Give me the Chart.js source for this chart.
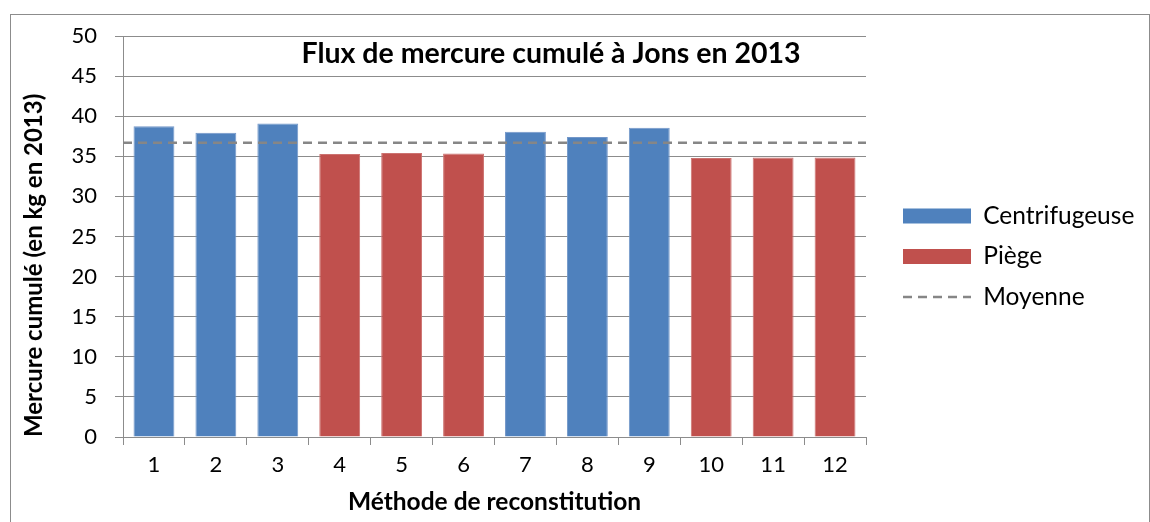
<!DOCTYPE html>
<html>
<head>
<meta charset="utf-8">
<script src="https://cdn.jsdelivr.net/npm/chart.js@4"></script>
<style>
  html, body { margin: 0; padding: 0; background: #fff; }
  #frame { position: absolute; left: 10px; top: 14px; width: 1138px; height: 530px; border: 1px solid #8c8c8c; }
  #wrap { position: absolute; left: 0; top: 0; width: 1150px; height: 522px; }
</style>
</head>
<body>
<div id="frame"></div>
<div id="wrap"><canvas id="chart" width="1150" height="522"></canvas></div>
<script>
// ===========================
// DATA
// ===========================
const methodes      = ['1', '2', '3', '4', '5', '6', '7', '8', '9', '10', '11', '12'];
const centrifugeuse = [38.75, 37.95, 39.1, null, null, null, 38.05, 37.4, 38.55, null, null, null];
const piege         = [null, null, null, 35.3, 35.4, 35.35, null, null, null, 34.8, 34.85, 34.85];
const moyenne       = 36.7;
const yTicks        = [0, 5, 10, 15, 20, 25, 30, 35, 40, 45, 50];

const BLUE  = '#4F81BD';
const RED   = '#C0504D';
const GRID  = '#8c8c8c';
const FONT  = 'Lato, Carlito, Calibri, sans-serif';

// title drawn inside the plot, like the Excel original
const innerTitle = {
  id: 'innerTitle',
  afterDraw(chart) {
    const { ctx, chartArea } = chart;
    ctx.save();
    ctx.font = 'bold 28.5px ' + FONT;
    ctx.fillStyle = '#000';
    ctx.textAlign = 'center';
    ctx.textBaseline = 'middle';
    ctx.fillText('Flux de mercure cumulé à Jons en 2013', chartArea.left + 428, chartArea.top + 18);
    ctx.restore();
  }
};

// legend width so that the plot ends where the original one does
const LEG_FONT = 24.5, LEG_PAD = 16, LEG_BOX = 68;
const m = document.createElement('canvas').getContext('2d');
m.font = LEG_FONT + 'px ' + FONT;
const textW = Math.max(...['Centrifugeuse', 'Piège', 'Moyenne'].map(t => m.measureText(t).width));
const legendW = 1150 - 881;
const padRight = Math.max(0, legendW - (LEG_PAD * 2 + LEG_BOX + LEG_FONT / 2 + textW));

new Chart(document.getElementById('chart'), {
  type: 'bar',
  data: {
    labels: methodes,
    datasets: [
      { label: 'Centrifugeuse', data: centrifugeuse, backgroundColor: BLUE, borderColor: '#7397c9', borderWidth: 1, order: 2 },
      { label: 'Piège',         data: piege,         backgroundColor: RED,  borderColor: '#cc7270', borderWidth: 1, order: 2 },
      {
        type: 'line', label: 'Moyenne',
        data: [{ x: 0, y: moyenne }, { x: methodes.length, y: moyenne }],
        xAxisID: 'x2', borderColor: '#868686', borderWidth: 2.5, borderDash: [9, 6],
        pointRadius: 0, fill: false, order: 0
      }
    ]
  },
  options: {
    responsive: false,
    animation: false,
    layout: { padding: { top: 36, right: padRight, bottom: 0, left: 0 } },
    datasets: { bar: { grouped: false, categoryPercentage: 1, barPercentage: 0.66 } },
    plugins: {
      tooltip: { enabled: false },
      legend: {
        position: 'right',
        align: 'start',
        maxWidth: legendW,
        title: { display: true, text: '', font: { size: 10 }, padding: { top: 139.75, bottom: 0 } },
        labels: {
          usePointStyle: true,
          pointStyleWidth: LEG_BOX,
          boxHeight: 15,
          padding: LEG_PAD,
          color: '#000',
          font: { family: FONT, size: LEG_FONT },
          sort: (a, b) => a.datasetIndex - b.datasetIndex,
          generateLabels(chart) {
            const items = Chart.defaults.plugins.legend.labels.generateLabels(chart);
            items.forEach(it => {
              if (it.text === 'Moyenne') {
                it.pointStyle = 'line'; it.lineWidth = 2.5; it.lineDash = [9, 6]; it.strokeStyle = '#868686';
              } else {
                it.pointStyle = 'rect'; it.lineWidth = 0;
              }
            });
            return items;
          }
        }
      }
    },
    scales: {
      x: {
        offset: true,
        grid: { offset: true, drawOnChartArea: false, drawTicks: true, tickLength: 8, color: GRID },
        border: { color: GRID, width: 1 },
        ticks: { color: '#000', padding: 7, font: { family: FONT, size: 22 } },
        title: { display: true, text: 'Méthode de reconstitution', color: '#000',
                 font: { family: FONT, size: 24.5, weight: 'bold' }, padding: { top: 0, bottom: 5 } },
        afterFit: s => { s.height = 85; }
      },
      x2: { type: 'linear', display: false, offset: false, min: 0, max: methodes.length },
      y: {
        min: 0, max: 50,
        afterBuildTicks: s => { s.ticks = yTicks.map(v => ({ value: v })); },
        grid: { color: GRID, tickLength: 8 },
        border: { color: GRID, width: 1 },
        ticks: { color: '#000', padding: 18, font: { family: FONT, size: 22 } },
        title: { display: true, text: 'Mercure cumulé (en kg en 2013)', color: '#000', align: 'start',
                 font: { family: FONT, size: 24, weight: 'bold' }, padding: { top: 20, bottom: 0 } },
        afterFit: s => { s.width = 123; }
      },
      yR: {
        position: 'right', display: true,
        grid: { display: false }, border: { display: false }, ticks: { display: false },
        afterFit: s => { s.width = 21; }
      }
    }
  },
  plugins: [innerTitle]
});
</script>
</body>
</html>
